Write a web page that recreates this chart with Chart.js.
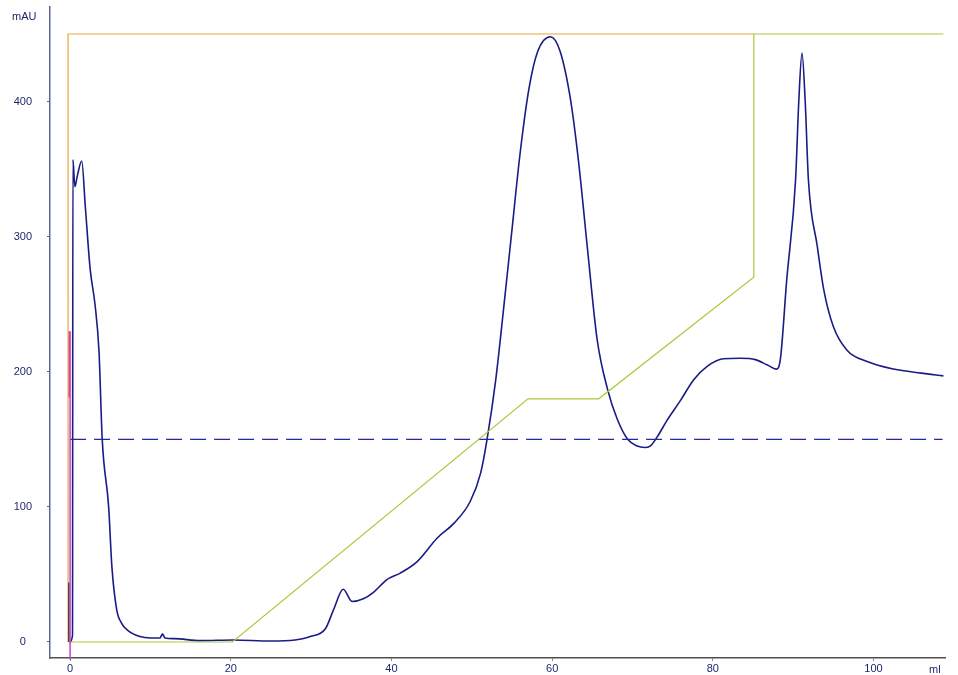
<!DOCTYPE html>
<html>
<head>
<meta charset="utf-8">
<script src="https://cdn.jsdelivr.net/npm/chart.js@4"></script>
<style>
  body { margin: 0; background: #fff; }
  #wrap { width: 958px; height: 675px; }
</style>
</head>
<body>
<div id="wrap"><canvas id="chrom" width="958" height="675"></canvas></div>
<script>
// UV trace (ml, mAU)
var uvMl = [0.0, 0.3, 0.35, 0.6, 0.9, 1.45, 1.9, 2.5, 3.1, 3.6, 4.0, 4.8, 5.2, 5.8, 6.4, 7.1, 8.7, 10, 11.2, 11.5, 11.8, 13, 16.2, 20.3, 24.9, 28, 29.9, 31.8, 32.8, 34, 35.1, 36.5, 37.8, 39.4, 41.1, 43.2, 45.7, 47.8, 49.8, 51.1, 51.9, 53, 54, 55, 56, 57.1, 58.2, 59.8, 61, 62.3, 63.3, 64.4, 65.6, 66.9, 68.1, 69.4, 70.6, 71.5, 72.2, 73.1, 74.3, 76, 77.6, 79.3, 81.3, 83.4, 85.3, 86.8, 87.9, 88.4, 89.2, 90.3, 90.7, 91.1, 91.5, 91.9, 93, 93.8, 95, 96.7, 99.2, 102.5, 105.9, 108.7]
var uvMau = [0, 5, 357, 337, 345, 356, 322, 276, 250, 215, 150, 100, 56, 24, 14, 9, 4, 3, 3, 6, 3, 2.5, 1, 1.5, 0.7, 1.5, 4, 10, 24, 39, 30, 32, 37, 46, 51, 59.5, 77, 88, 104, 125, 150, 195, 249, 305, 361, 409, 437, 448, 437, 401, 355, 291, 224, 187, 165, 150, 145, 144, 145, 152, 164, 179, 194, 204, 209.6, 210, 209, 205, 202, 209, 268, 342, 400, 436, 400, 342, 293, 261, 233.5, 216, 207.6, 202, 199, 197]

// gradient / concentration trace
var gradMl = [-0.2, 20.2, 57, 65.8, 85.1, 85.1, 108.7]
var gradVal = [0, 0, 180, 180, 270, 450, 450]

// system / pressure trace
var sysMl = [-0.25, -0.25, 85.1]
var sysVal = [0, 450, 450]

// level marker (dashed)
var levelMl = [0, 108.6]
var levelVal = [150, 150]

// injection marks
var injMl = [0, 0]
var injVal = [-13, 230]
var injRedMl = [-0.1, -0.1]
var injRedVal = [181, 230]
var injDarkMl = [-0.15, -0.15]
var injDarkVal = [0, 44]

var xTicks = [0, 20, 40, 60, 80, 100]
var yTicks = [0, 100, 200, 300, 400]

function pts(xs, ys) {
  return xs.map(function (x, i) { return { x: x, y: ys[i] } })
}

var labelsPlugin = {
  id: 'unitLabels',
  afterDraw: function (chart) {
    var ctx = chart.ctx
    ctx.save()
    ctx.font = '11px "Liberation Sans", Arial, sans-serif'
    ctx.fillStyle = '#1c1f6b'
    ctx.textBaseline = 'middle'
    ctx.textAlign = 'left'
    ctx.fillText('mAU', 12, 17)
    ctx.fillText('ml', 929, 670)
    ctx.restore()
  }
}

var ctx = document.getElementById('chrom')
var chart = new Chart(ctx, {
  type: 'line',
  data: {
    datasets: [
      { data: pts(injMl, injVal), borderColor: '#c93fd0', borderWidth: 1.5, clip: false },
      { data: pts(injRedMl, injRedVal), borderColor: '#e05050', borderWidth: 1.5 },
      { data: pts(injDarkMl, injDarkVal), borderColor: '#333333', borderWidth: 1.5 },
      { data: pts(sysMl, sysVal), borderColor: '#e8a640', borderWidth: 1.2 },
      { data: pts(gradMl, gradVal), borderColor: '#a9c93c', borderWidth: 1.2 },
      { data: pts(levelMl, levelVal), borderColor: '#1f2a9c', borderWidth: 1.3, borderDash: [16, 8] },
      { data: pts(uvMl, uvMau), borderColor: '#1b1b86', borderWidth: 1.6, cubicInterpolationMode: 'monotone' }
    ]
  },
  options: {
    responsive: false,
    animation: false,
    devicePixelRatio: 1,
    layout: { padding: { top: 7, right: 13, left: 0, bottom: 0 } },
    elements: {
      point: { radius: 0 },
      line: { tension: 0, fill: false }
    },
    plugins: { legend: { display: false }, tooltip: { enabled: false } },
    scales: {
      x: {
        type: 'linear',
        min: -2.5,
        max: 108.9,
        afterFit: function (s) { s.height = 17; s.paddingLeft = 0; s.paddingRight = 0 },
        afterBuildTicks: function (s) { s.ticks = xTicks.map(function (v) { return { value: v } }) },
        border: { color: '#505050', width: 1.5 },
        grid: { drawOnChartArea: false, tickLength: 3, color: '#8a8a8a' },
        ticks: {
          color: '#1c1f6b',
          padding: 1,
          maxRotation: 0,
          font: { size: 11, family: '"Liberation Sans", Arial, sans-serif' }
        }
      },
      y: {
        type: 'linear',
        min: -11.85,
        max: 470,
        afterFit: function (s) { s.width = 50; s.paddingTop = 0; s.paddingBottom = 0 },
        afterBuildTicks: function (s) { s.ticks = yTicks.map(function (v) { return { value: v } }) },
        border: { color: '#5c6496', width: 1.5 },
        grid: { drawOnChartArea: false, tickLength: 3, color: '#5c6496' },
        ticks: {
          color: '#1c1f6b',
          padding: 15,
          crossAlign: 'center',
          font: { size: 11, family: '"Liberation Sans", Arial, sans-serif' }
        }
      }
    }
  },
  plugins: [labelsPlugin]
})
</script>
</body>
</html>
